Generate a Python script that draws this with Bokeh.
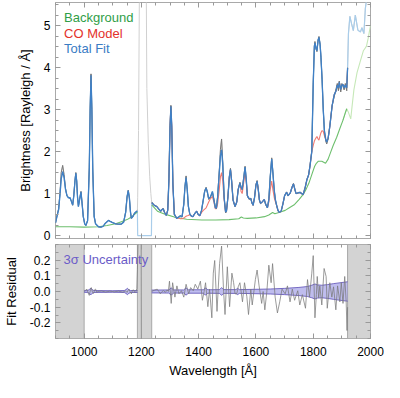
import numpy as np
from bokeh.plotting import figure
from bokeh.layouts import column
from bokeh.models import (Range1d, FixedTicker, LinearAxis, PrintfTickFormatter,
                          CustomLabelingPolicy)
from bokeh.core.properties import value
from bokeh.embed import file_html
from bokeh.resources import INLINE

FONT = "Liberation Sans"

# ---------------- data ----------------
wavelength = [
    900, 905, 911, 916, 920, 925, 930, 935, 940, 945,
    951, 955, 960, 964, 968, 971, 974, 977, 980, 984,
    989, 993, 997, 1002, 1006, 1012, 1018, 1021, 1024, 1027,
    1030, 1035, 1040, 1050, 1058, 1066, 1075, 1085, 1093, 1102,
    1110, 1120, 1129, 1138, 1145, 1150, 1154, 1158, 1162, 1165,
    1170, 1175, 1180, 1186, 1187, 1190, 1194, 1216, 1219, 1224,
    1229, 1233, 1235, 1236, 1245, 1254, 1262, 1268, 1272, 1276,
    1281, 1287, 1292, 1296, 1300, 1303, 1306, 1310, 1315, 1323,
    1330, 1336, 1342, 1348, 1352, 1356, 1360, 1364, 1369, 1375,
    1380, 1386, 1393, 1398, 1404, 1410, 1416, 1421, 1426, 1430,
    1435, 1441, 1448, 1453, 1458, 1462, 1466, 1472, 1476, 1480,
    1484, 1489, 1494, 1497, 1502, 1507, 1511, 1515, 1520, 1527,
    1533, 1538, 1544, 1548, 1552, 1557, 1562, 1566, 1570, 1576,
    1582, 1586, 1590, 1595, 1600, 1604, 1608, 1612, 1616, 1622,
    1629, 1634, 1640, 1645, 1650, 1655, 1659, 1664, 1668, 1672,
    1677, 1681, 1688, 1694, 1700, 1707, 1712, 1716, 1720, 1726,
    1731, 1736, 1740, 1747, 1754, 1760, 1765, 1772, 1778, 1784,
    1789, 1795, 1800, 1804, 1806, 1810, 1813, 1817, 1820, 1824,
    1827, 1831, 1835, 1839, 1844, 1847, 1852, 1858, 1866, 1873,
    1880, 1884, 1888, 1891, 1896, 1900, 1904, 1908, 1912, 1917,
    1920, 1923, 1928, 1934, 1940, 1947, 1956, 1965, 1970, 1977,
    1982, 1990, 2000,
]
total_fit = [
    0.30, 0.45, 0.62, 1.00, 1.35, 1.52, 1.38, 1.10, 0.95, 0.90,
    0.90, 0.82, 0.73, 0.95, 1.30, 1.48, 1.30, 0.90, 0.69, 0.85,
    1.04, 0.75, 0.45, 0.28, 0.24, 0.35, 1.60, 3.00, 3.82, 3.00,
    1.60, 0.45, 0.28, 0.21, 0.20, 0.22, 0.30, 0.36, 0.33, 0.30,
    0.28, 0.27, 0.27, 0.32, 0.55, 0.92, 1.07, 0.90, 0.55, 0.41,
    0.45, 0.52, 0.56, 0.58, 0.00, 0.00, 0.00, 0.00, 0.00, 0.00,
    0.00, 0.00, 0.00, 0.78, 0.72, 0.69, 0.62, 0.58, 0.62, 0.64,
    0.55, 0.48, 0.60, 1.30, 2.60, 3.08, 2.60, 1.20, 0.51, 0.41,
    0.44, 0.47, 0.45, 0.75, 1.15, 1.38, 1.10, 0.70, 0.51, 0.46,
    0.45, 0.52, 0.58, 0.50, 0.47, 0.60, 0.85, 1.05, 1.13, 1.05,
    0.88, 0.92, 1.05, 0.85, 0.66, 0.66, 0.90, 1.50, 1.90, 2.04,
    1.70, 0.90, 0.56, 0.58, 0.90, 1.40, 1.57, 1.30, 0.85, 0.69,
    0.80, 1.10, 1.25, 1.15, 1.10, 1.35, 1.63, 1.35, 0.95, 0.88,
    0.88, 0.78, 0.72, 0.90, 1.20, 1.29, 1.10, 0.85, 0.77, 0.80,
    0.86, 0.75, 0.66, 0.85, 1.40, 1.82, 1.50, 1.07, 0.85, 0.73,
    0.60, 0.55, 0.58, 0.75, 0.95, 1.03, 0.95, 0.98, 1.02, 1.15,
    1.23, 1.10, 1.00, 1.02, 1.03, 1.00, 0.98, 1.15, 1.33, 1.45,
    1.67, 2.00, 3.60, 4.50, 4.59, 4.45, 4.40, 4.65, 4.72, 4.55,
    4.25, 3.70, 3.00, 2.50, 2.28, 2.23, 2.32, 2.60, 3.09, 3.35,
    3.45, 3.58, 3.52, 3.65, 3.48, 3.58, 3.60, 3.52, 3.58, 3.52,
    3.99, 4.81, 5.22, 5.04, 4.88, 5.25, 4.89, 4.85, 4.95, 4.81,
    5.41, 5.80, 6.00,
]
observed = [
    0.30, 0.47, 0.64, 1.05, 1.50, 1.67, 1.45, 1.12, 0.95, 0.91,
    0.88, 0.83, 0.72, 0.97, 1.32, 1.50, 1.30, 0.92, 0.70, 0.86,
    1.05, 0.76, 0.45, 0.28, 0.24, 0.36, 1.62, 3.02, 3.85, 3.00,
    1.58, 0.46, 0.28, 0.21, 0.20, 0.22, 0.30, 0.36, 0.33, 0.30,
    0.28, 0.27, 0.27, 0.32, 0.56, 0.93, 1.08, 0.89, 0.54, 0.41,
    0.45, 0.52, 0.56, 0.60, 0.90, 2.50, 7.00, 7.00, 3.50, 2.20,
    1.40, 1.00, 0.85, 0.80, 0.72, 0.69, 0.62, 0.58, 0.62, 0.65,
    0.55, 0.48, 0.62, 1.35, 2.62, 3.10, 2.57, 1.25, 0.50, 0.42,
    0.44, 0.47, 0.44, 0.74, 1.17, 1.42, 1.10, 0.69, 0.51, 0.46,
    0.45, 0.53, 0.58, 0.51, 0.48, 0.60, 0.84, 1.07, 1.15, 1.03,
    0.86, 0.92, 1.03, 0.87, 0.70, 0.64, 0.93, 1.55, 2.05, 2.30,
    1.75, 0.90, 0.54, 0.58, 0.93, 1.38, 1.60, 1.32, 0.84, 0.69,
    0.80, 1.10, 1.27, 1.15, 1.09, 1.37, 1.65, 1.33, 0.94, 0.86,
    0.89, 0.77, 0.72, 0.91, 1.22, 1.31, 1.11, 0.84, 0.76, 0.80,
    0.85, 0.73, 0.66, 0.88, 1.42, 1.85, 1.53, 1.06, 0.84, 0.71,
    0.59, 0.55, 0.58, 0.75, 0.94, 1.04, 0.94, 0.98, 1.01, 1.15,
    1.24, 1.09, 1.00, 1.01, 1.02, 0.99, 0.97, 1.14, 1.34, 1.44,
    1.68, 2.02, 3.65, 4.52, 4.62, 4.44, 4.38, 4.66, 4.74, 4.55,
    4.24, 3.72, 3.00, 2.48, 2.25, 2.18, 2.30, 2.62, 3.10, 3.30,
    3.50, 3.62, 3.45, 3.68, 3.42, 3.62, 3.55, 3.47, 3.62, 3.45,
    4.00, 4.81, 5.22, 5.04, 4.88, 5.25, 4.89, 4.85, 4.95, 4.81,
    5.41, 5.80, 6.00,
]
wl_co = [
    1236, 1245, 1254, 1262, 1268, 1272, 1276,
    1281, 1287, 1292, 1296, 1300, 1303, 1306, 1310, 1315, 1323,
    1330, 1336, 1342, 1348, 1352, 1356, 1360, 1364, 1369, 1375,
    1380, 1386, 1393, 1398, 1404, 1410, 1416, 1421, 1426, 1430,
    1435, 1441, 1448, 1453, 1458, 1462, 1466, 1472, 1476, 1480,
    1484, 1489, 1494, 1497, 1502, 1507, 1511, 1515, 1520, 1527,
    1533, 1538, 1544, 1548, 1552, 1557, 1562, 1566, 1570, 1576,
    1582, 1586, 1590, 1595, 1600, 1604, 1608, 1612, 1616, 1622,
    1629, 1634, 1640, 1645, 1650, 1655, 1659, 1664, 1668, 1672,
    1677, 1681, 1688, 1694, 1700, 1707, 1712, 1716, 1720, 1726,
    1731, 1736, 1740, 1747, 1754, 1760, 1765, 1772, 1778, 1784,
    1789, 1795, 1800, 1804, 1806, 1810, 1813, 1817, 1820, 1824,
    1827, 1831, 1835, 1839, 1844, 1847, 1852, 1858, 1866, 1873,
    1880, 1884, 1888, 1891, 1896, 1900, 1904, 1908, 1912, 1917,
    1920,
]
co_model = [
    0.78, 0.72, 0.69, 0.62, 0.58, 0.62, 0.64,
    0.55, 0.48, 0.60, 1.30, 2.60, 3.08, 2.60, 1.20, 0.51, 0.41,
    0.42, 0.40, 0.40, 0.42, 0.44, 0.46, 0.47, 0.48, 0.50, 0.46,
    0.45, 0.52, 0.58, 0.50, 0.47, 0.55, 0.60, 0.63, 0.66, 0.72,
    0.80, 0.88, 0.93, 0.80, 0.64, 0.64, 0.75, 1.10, 1.40, 1.50,
    1.30, 0.85, 0.55, 0.58, 0.90, 1.40, 1.57, 1.30, 0.85, 0.69,
    0.80, 1.10, 1.25, 1.05, 1.00, 1.25, 1.50, 1.30, 0.95, 0.88,
    0.88, 0.78, 0.72, 0.90, 1.20, 1.29, 1.10, 0.85, 0.77, 0.80,
    0.86, 0.75, 0.66, 0.80, 1.10, 1.30, 1.10, 0.90, 0.80, 0.73,
    0.60, 0.55, 0.58, 0.75, 0.95, 1.03, 0.95, 0.98, 1.02, 1.15,
    1.23, 1.10, 1.00, 1.02, 1.03, 1.00, 0.98, 1.15, 1.33, 1.45,
    1.67, 2.00, 2.15, 2.25, 2.28, 2.33, 2.36, 2.30, 2.27, 2.38,
    2.45, 2.50, 2.48, 2.38, 2.28, 2.23, 2.32, 2.60, 3.09, 3.35,
    3.45, 3.58, 3.52, 3.65, 3.48, 3.58, 3.60, 3.52, 3.58, 3.52,
    3.99,
]
wl_bg = [
    900, 950, 1000, 1050, 1080, 1110, 1130, 1150, 1165, 1175,
    1186, 1236, 1256, 1282, 1315, 1358, 1411, 1460, 1506, 1540,
    1549, 1556, 1570, 1600, 1630, 1645, 1658, 1666, 1680, 1702,
    1718, 1735, 1751, 1765, 1775, 1785, 1795, 1805, 1811, 1818,
    1830, 1843, 1852, 1860, 1870, 1882, 1893, 1904, 1912, 1917,
    1922, 1931, 1936, 1942, 1953, 1964, 1975, 1980, 1986, 1992,
    1997, 2000,
]
background = [
    0.21, 0.21, 0.20, 0.21, 0.24, 0.28, 0.33, 0.38, 0.44, 0.50,
    0.56, 0.73, 0.58, 0.51, 0.44, 0.39, 0.37, 0.37, 0.38, 0.40,
    0.44, 0.42, 0.41, 0.42, 0.45, 0.49, 0.55, 0.52, 0.55, 0.60,
    0.67, 0.74, 0.86, 0.98, 1.10, 1.25, 1.45, 1.65, 1.72, 1.77,
    1.77, 1.72, 1.82, 1.97, 2.15, 2.34, 2.55, 2.75, 2.92, 3.02,
    2.95, 2.78, 3.10, 3.47, 3.88, 4.14, 4.40, 4.45, 4.51, 4.70,
    4.89, 5.00,
]
# residuals (data - fit) in the two fit windows
wl_res_a = [1000, 1005, 1010, 1014, 1018, 1022, 1025, 1029, 1033, 1037,
            1040, 1044, 1048, 1060, 1075, 1090, 1105, 1120, 1135, 1145,
            1150, 1156, 1160, 1165, 1169, 1173, 1177, 1181, 1184, 1186,
            1190, 1199, 1200]
resid_a = [0.0, 0.008, 0.015, -0.01, -0.025, 0.01, 0.025, -0.005, -0.012, 0.012,
           0.015, -0.005, 0.0, 0.003, -0.003, 0.002, -0.002, 0.002, -0.004, 0.004,
           -0.006, 0.015, 0.0, -0.015, 0.008, 0.01, -0.008, 0.0, 0.02, 0.14,
           0.45, 0.45, -0.45]
wl_res_b = [
    1236, 1245, 1255, 1261, 1266, 1272, 1277, 1284, 1290, 1294,
    1298, 1304, 1309, 1317, 1324, 1331, 1340, 1348, 1356, 1365,
    1372, 1381, 1388, 1397, 1406, 1413, 1419, 1424, 1432, 1438,
    1446, 1451, 1456, 1464, 1473, 1480, 1487, 1492, 1500, 1508,
    1516, 1522, 1527, 1533, 1538, 1544, 1553, 1560, 1568, 1574,
    1582, 1587, 1598, 1604, 1611, 1620, 1625, 1631, 1638, 1645,
    1653, 1658, 1667, 1675, 1683, 1691, 1702, 1710, 1719, 1727,
    1735, 1746, 1753, 1762, 1773, 1780, 1787, 1795, 1800, 1806,
    1811, 1814, 1819, 1823, 1830, 1838, 1845, 1849, 1858, 1865,
    1871, 1879, 1885, 1893, 1898, 1904, 1910, 1915, 1918, 1920,
]
resid_b = [
    0.0, 0.008, 0.015, 0.0, -0.015, 0.0, 0.005, -0.005, 0.01, 0.0,
    0.066, -0.076, 0.056, -0.036, 0.036, -0.015, 0.005, -0.036, 0.046, -0.015,
    0.025, 0.005, 0.046, 0.015, 0.066, -0.056, 0.0, 0.056, -0.097, 0.015,
    -0.168, 0.117, 0.198, -0.127, 0.178, 0.29, 0.0, -0.147, 0.158, -0.097,
    0.117, 0.056, -0.015, -0.015, 0.03, 0.056, -0.066, 0.056, -0.03, -0.147,
    0.015, -0.086, 0.076, 0.137, 0.036, -0.076, 0.0, -0.117, 0.0, 0.168,
    0.056, 0.178, -0.036, -0.137, -0.066, 0.015, -0.015, 0.036, -0.066, 0.015,
    -0.056, 0.005, -0.086, -0.02, -0.107, 0.076, -0.036, 0.117, 0.229, -0.168,
    -0.02, 0.096, -0.04, 0.036, -0.086, 0.147, 0.096, -0.107, 0.056, -0.036,
    0.03, -0.117, 0.036, -0.066, 0.056, -0.076, 0.096, -0.066, -0.249, -0.1,
]
# 3-sigma uncertainty half-widths
wl_sig_a = [1000, 1012, 1018, 1023, 1028, 1034, 1100, 1140, 1146, 1151, 1156, 1162, 1186]
sig_a = [0.005, 0.006, 0.012, 0.022, 0.012, 0.006, 0.005, 0.006, 0.012, 0.02, 0.012, 0.006, 0.006]
wl_sig_b = [1236, 1295, 1300, 1304, 1308, 1313, 1348, 1352, 1356, 1360, 1364,
            1416, 1420, 1424, 1428, 1432, 1472, 1476, 1480, 1484, 1488,
            1530, 1536, 1542, 1600, 1650, 1700, 1750, 1780, 1795, 1806,
            1815, 1830, 1850, 1870, 1890, 1920]
sig_b = [0.009, 0.01, 0.016, 0.024, 0.016, 0.01, 0.01, 0.016, 0.024, 0.016, 0.011,
         0.011, 0.016, 0.024, 0.016, 0.011, 0.012, 0.017, 0.025, 0.017, 0.012,
         0.012, 0.02, 0.012, 0.014, 0.016, 0.02, 0.026, 0.032, 0.04, 0.048,
         0.042, 0.04, 0.044, 0.05, 0.055, 0.062]

fit_windows = [(900, 1186), (1236, 1920)]
masked_left = [900, 1186, 1920]
masked_right = [1000, 1236, 2000]

x_ticks = [1000, 1200, 1400, 1600, 1800, 2000]
x_minor = list(range(900, 2001, 50))
y_ticks_top = [0, 1, 2, 3, 4, 5]
y_minor_top = [i * 0.25 for i in range(0, 23)]
y_ticks_res = [-0.2, -0.1, 0.0, 0.1, 0.2]
y_minor_res = [round(-0.3 + i * 0.05, 2) for i in range(13)]

legend_labels = ["Background", "CO Model", "Total Fit"]
legend_colors = ["#2f9e47", "#e3312b", "#3a7cc4"]
legend_x = 930
legend_y = [5.19, 4.82, 4.45]

# ---------------- styling ----------------
W = 384
LB, RB = 50, 14
FRAME = "#a9a9a9"
TICK = "#999999"


def style_axis(ax, ticks, minor, show, fmt=None):
    ax.ticker = FixedTicker(ticks=ticks, minor_ticks=minor)
    ax.axis_line_color = None
    ax.major_tick_in = 5
    ax.major_tick_out = 0
    ax.minor_tick_in = 3
    ax.minor_tick_out = 0
    ax.major_tick_line_color = TICK
    ax.minor_tick_line_color = TICK
    ax.major_label_text_font = FONT
    ax.major_label_text_color = "#000000"
    ax.axis_label_text_font = FONT
    ax.axis_label_text_font_style = "normal"
    ax.axis_label_text_font_size = "13px"
    ax.axis_label_text_color = "#000000"
    if fmt is not None:
        ax.formatter = fmt
    if show:
        ax.major_label_text_font_size = "12px"
        ax.major_label_standoff = 5
    else:
        ax.major_label_text_font_size = "0px"
        ax.major_label_standoff = 0
        ax.major_label_policy = CustomLabelingPolicy(code="return new Set()")


def make_fig(height, yr, top_b, bottom_b):
    p = figure(width=W, height=height, x_range=Range1d(900, 2000), y_range=Range1d(*yr),
               output_backend="svg", toolbar_location=None,
               min_border_left=LB, min_border_right=RB,
               min_border_top=top_b, min_border_bottom=bottom_b)
    p.grid.visible = False
    p.outline_line_color = FRAME
    p.outline_line_width = 1
    p.background_fill_color = "white"
    p.border_fill_color = "white"
    return p


wl = np.array(wavelength, dtype=float)
fit = np.array(total_fit)
obs = np.array(observed)
wbg = np.array(wl_bg, dtype=float)
bg = np.array(background)

# ---------------- top panel ----------------
top = make_fig(242, (-0.07, 5.55), 2, 4)
style_axis(top.xaxis[0], x_ticks, x_minor, False)
style_axis(top.yaxis[0], y_ticks_top, y_minor_top, True)
top.yaxis[0].axis_label = "Brightness [Rayleigh / Å]"
top.yaxis[0].axis_label_standoff = 8
ax_r = LinearAxis()
style_axis(ax_r, y_ticks_top, y_minor_top, False)
top.add_layout(ax_r, "right")
ax_t = LinearAxis()
style_axis(ax_t, x_ticks, x_minor, False)
top.add_layout(ax_t, "above")

# light (outside fit windows) versions
top.line(wl, obs, line_color="#d0d0d0", line_width=1)
top.line(wl, fit, line_color="#a9cdea", line_width=1.2)
m_light_bg = wbg >= 1900
top.line(wbg[m_light_bg], bg[m_light_bg], line_color="#c6e8b8", line_width=1.1)

for lo, hi in fit_windows:
    m = (wbg >= lo) & (wbg <= hi)
    top.line(wbg[m], bg[m], line_color="#6dbf6d", line_width=1.1)

top.line(wl_co, co_model, line_color="#f07a72", line_width=1.1)

for lo, hi in fit_windows:
    m = (wl >= lo) & (wl <= hi)
    top.line(wl[m], obs[m], line_color="#767676", line_width=1.0)
for lo, hi in fit_windows:
    m = (wl >= lo) & (wl <= hi)
    top.line(wl[m], fit[m], line_color="#3f80c6", line_width=1.3)

top.text(x=[legend_x] * 3, y=legend_y, text=legend_labels, text_color=legend_colors,
         text_font=value(FONT), text_font_size="13px", text_baseline="middle")

# ---------------- residual panel ----------------
bot = make_fig(138, (-0.3, 0.3), 2, 40)
style_axis(bot.xaxis[0], x_ticks, x_minor, True)
bot.xaxis[0].axis_label = "Wavelength [Å]"
bot.xaxis[0].major_label_standoff = 8
bot.xaxis[0].axis_label_standoff = 4
style_axis(bot.yaxis[0], y_ticks_res, y_minor_res, True, PrintfTickFormatter(format="%.1f"))
bot.yaxis[0].axis_label = "Fit Residual"
bot.yaxis[0].axis_label_standoff = 8
ax_r2 = LinearAxis()
style_axis(ax_r2, y_ticks_res, y_minor_res, False)
bot.add_layout(ax_r2, "right")
ax_t2 = LinearAxis()
style_axis(ax_t2, x_ticks, x_minor, False)
bot.add_layout(ax_t2, "above")

bot.quad(left=masked_left, right=masked_right, bottom=-0.3, top=0.3,
         fill_color="#d3d3d3", line_color="#a8a8a8", line_width=1)

for wls, sg in ((wl_sig_a, sig_a), (wl_sig_b, sig_b)):
    s = np.array(sg)
    bot.varea(x=wls, y1=-s, y2=s, fill_color="#9491e2", fill_alpha=0.6)
    bot.line(wls, s, line_color="#5a4db5", line_width=0.8)
    bot.line(wls, -s, line_color="#5a4db5", line_width=0.8)

bot.line(wl_res_a, resid_a, line_color="#7a7a7a", line_width=0.75)
bot.line(wl_res_b, resid_b, line_color="#7a7a7a", line_width=0.75)

bot.text(x=[928], y=[0.205], text=["3σ Uncertainty"], text_color="#6b5cc8",
         text_font=value(FONT), text_font_size="13px", text_baseline="middle")

layout = column(top, bot)
open("out.html", "w").write(file_html(layout, INLINE))
